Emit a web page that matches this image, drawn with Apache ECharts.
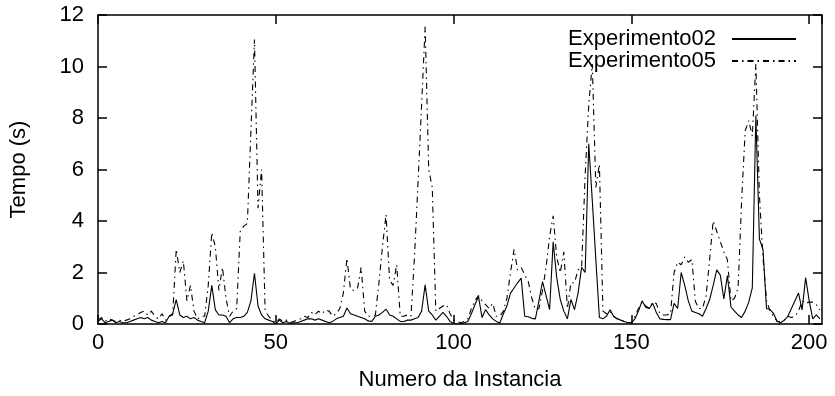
<!DOCTYPE html>
<html>
<head>
<meta charset="utf-8">
<script src="https://cdn.jsdelivr.net/npm/echarts@6/dist/echarts.min.js"></script>
<style>
html,body{margin:0;padding:0;background:#fff;}
#chart{width:835px;height:396px;}
</style>
</head>
<body>
<div id="chart"></div>
<script>
// Instance index 0..203
const xValues = Array.from({length: 204}, (_, i) => i);

const experimento02 = [
0.1,0.2,0.05,0.1,0.15,0.05,0.1,0.05,0.05,0.1,
0.15,0.2,0.25,0.2,0.25,0.15,0.1,0.05,0.1,0.05,
0.3,0.4,0.95,0.35,0.25,0.3,0.2,0.25,0.15,0.1,
0.05,0.5,1.5,0.55,0.35,0.35,0.3,0.05,0.2,0.25,
0.25,0.3,0.45,0.9,1.97,0.7,0.35,0.2,0.15,0.1,
0.0,0.15,0.05,0.1,0.02,0.05,0.05,0.1,0.15,0.2,
0.2,0.15,0.2,0.15,0.1,0.05,0.1,0.2,0.25,0.3,
0.62,0.4,0.35,0.3,0.25,0.2,0.12,0.1,0.3,0.35,
0.45,0.58,0.35,0.3,0.2,0.1,0.1,0.15,0.15,0.2,
0.25,0.5,1.52,0.5,0.35,0.15,0.3,0.45,0.3,0.1,
0.03,0.0,0.0,0.05,0.1,0.4,0.75,1.07,0.25,0.56,
0.35,0.2,0.1,0.04,0.4,0.7,1.2,1.4,1.6,1.78,
0.3,0.28,0.22,0.2,0.9,1.65,1.1,0.56,3.19,1.8,
0.95,0.5,0.2,0.95,0.56,1.2,2.2,2.0,7.0,4.8,
2.5,0.25,0.2,0.3,0.55,0.3,0.2,0.15,0.1,0.05,
0.05,0.2,0.5,0.9,0.65,0.6,0.8,0.45,0.2,0.18,
0.17,0.17,0.8,0.6,2.0,1.5,0.9,0.5,0.45,0.4,
0.3,0.6,0.95,1.5,2.1,1.9,0.97,1.88,0.66,0.5,
0.35,0.25,0.5,0.85,1.4,8.1,3.3,2.9,0.6,0.56,
0.4,0.1,0.05,0.15,0.3,0.6,0.9,1.2,0.55,1.8,
0.9,0.2,0.35,0.2
];

const experimento05 = [
0.15,0.25,0.1,0.2,0.15,0.1,0.15,0.1,0.15,0.2,
0.3,0.35,0.45,0.5,0.35,0.5,0.3,0.2,0.4,0.15,
0.3,0.35,2.9,2.0,2.45,0.9,1.5,0.5,0.2,0.3,
0.3,1.5,3.55,3.0,1.3,2.2,1.0,0.3,0.5,0.6,
3.6,3.8,3.9,7.5,11.05,4.5,6.0,0.5,0.3,0.15,
0.05,0.2,0.1,0.15,0.05,0.1,0.15,0.2,0.3,0.25,
0.45,0.35,0.5,0.4,0.55,0.5,0.3,0.4,0.6,1.2,
2.55,1.35,1.3,1.4,2.2,0.5,0.3,0.3,0.35,1.6,
3.0,4.25,1.7,1.5,2.3,0.3,0.3,0.35,0.3,2.6,
5.5,8.5,11.55,6.0,5.3,0.5,0.6,0.7,0.75,0.4,
0.15,0.1,0.05,0.1,0.2,0.6,0.9,1.1,0.9,0.75,
0.6,0.8,0.3,0.3,0.5,1.0,2.0,2.9,2.1,2.2,
1.9,1.65,1.0,0.56,0.6,1.3,2.2,3.4,4.2,2.6,
2.0,2.8,0.6,1.6,1.6,2.1,2.2,5.8,8.5,10.1,
5.3,6.2,0.5,0.4,0.5,0.3,0.2,0.15,0.1,0.05,
0.05,0.3,0.6,0.85,0.7,0.6,0.85,0.8,0.4,0.35,
0.35,0.4,2.0,2.4,2.3,2.6,2.4,2.5,0.87,0.6,
0.6,1.1,2.5,4.0,3.6,3.2,2.8,2.5,0.9,1.0,
1.4,4.8,7.5,7.9,7.3,10.1,5.0,2.6,0.9,0.5,
0.3,0.1,0.1,0.15,0.3,0.25,0.3,0.5,0.9,0.8,
0.85,0.85,0.75,0.55
];

const xTicks = [0, 50, 100, 150, 200];
const yTicks = [0, 2, 4, 6, 8, 10, 12];

const FONT = '"Liberation Sans", Arial, Helvetica, sans-serif';
const FS = 22;
const chart = echarts.init(document.getElementById('chart'), null, {renderer: 'canvas'});

const axisLineStyle = {color: '#000', width: 1.5};
const tickStyle = {show: true, inside: true, length: 9, lineStyle: {color: '#000', width: 1.5}};

chart.setOption({
  animation: false,
  backgroundColor: '#fff',
  textStyle: {fontFamily: FONT},
  grid: {left: 98, right: 13, top: 15, bottom: 70, containLabel: false},
  legend: {
    orient: 'vertical',
    align: 'right',
    right: 38,
    top: 28,
    padding: 0,
    itemGap: 0,
    itemWidth: 64,
    itemHeight: 14,
    selectedMode: false,
    itemStyle: {opacity: 0},
    textStyle: {fontFamily: FONT, fontSize: FS, lineHeight: 22, color: '#000', padding: [0, 11, 0, 0]},
    data: ['Experimento02', 'Experimento05']
  },
  xAxis: [
    {
      type: 'value', min: 0, max: 203.6, interval: 50,
      name: 'Numero da Instancia', nameLocation: 'middle', nameGap: 45,
      nameTextStyle: {fontFamily: FONT, fontSize: FS, color: '#000'},
      axisLine: {show: true, onZero: false, lineStyle: axisLineStyle},
      axisTick: tickStyle,
      axisLabel: {fontFamily: FONT, fontSize: FS, color: '#000', margin: 8, showMaxLabel: false,
        formatter: v => xTicks.includes(v) ? String(v) : ''},
      splitLine: {show: false}
    },
    {
      type: 'value', min: 0, max: 203.6, interval: 50, position: 'top',
      axisLine: {show: true, onZero: false, lineStyle: axisLineStyle},
      axisTick: tickStyle,
      axisLabel: {show: false},
      splitLine: {show: false}
    }
  ],
  yAxis: [
    {
      type: 'value', min: 0, max: 12, interval: 2,
      name: 'Tempo (s)', nameLocation: 'middle', nameGap: 68, nameRotate: 90,
      nameTextStyle: {fontFamily: FONT, fontSize: FS, color: '#000'},
      axisLine: {show: true, onZero: false, lineStyle: axisLineStyle},
      axisTick: tickStyle,
      axisLabel: {fontFamily: FONT, fontSize: FS, color: '#000', margin: 14,
        formatter: v => yTicks.includes(v) ? String(v) : ''},
      splitLine: {show: false}
    },
    {
      type: 'value', min: 0, max: 12, interval: 2, position: 'right',
      axisLine: {show: true, onZero: false, lineStyle: axisLineStyle},
      axisTick: tickStyle,
      axisLabel: {show: false},
      splitLine: {show: false}
    }
  ],
  series: [
    {
      name: 'Experimento02', type: 'line', xAxisIndex: 0, yAxisIndex: 0,
      data: xValues.map((x, i) => [x, experimento02[i]]),
      showSymbol: false, symbol: 'none',
      lineStyle: {color: '#000', width: 1.1, type: 'solid'},
      itemStyle: {color: '#000'}
    },
    {
      name: 'Experimento05', type: 'line', xAxisIndex: 0, yAxisIndex: 0,
      data: xValues.map((x, i) => [x, experimento05[i]]),
      showSymbol: false, symbol: 'none',
      lineStyle: {color: '#000', width: 1.1, type: [6, 4, 1.5, 4]},
      itemStyle: {color: '#000'}
    }
  ]
});
</script>
</body>
</html>
